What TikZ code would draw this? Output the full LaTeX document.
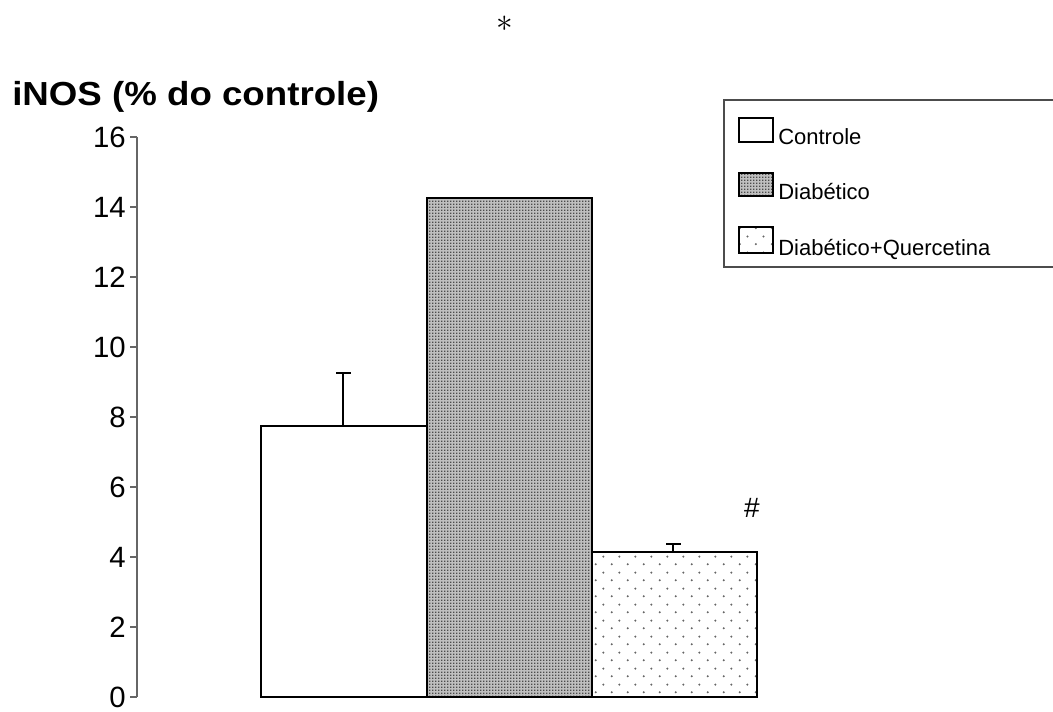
\documentclass[tikz,border=0pt]{standalone}
\usepackage{fontspec}
\setmainfont{Liberation Sans}
\usetikzlibrary{patterns.meta}

\tikzdeclarepattern{name=densedots, type=uncolored,
  bounding box={(0,0) and (2.25pt,2.25pt)}, tile size={(2.25pt,2.25pt)},
  code={\fill (0,0) rectangle (1.4pt,1.4pt);}}
\tikzdeclarepattern{name=sparsedots, type=uncolored,
  bounding box={(0,0) and (12pt,12pt)}, tile size={(12pt,12pt)},
  code={\fill (3pt,3pt) circle (0.9pt); \fill (9pt,9pt) circle (0.9pt);}}

\tikzset{
  axis/.style={draw=black!60, line width=0.8pt},
  bar/.style={draw=black, line width=1.5pt},
  errbar/.style={draw=black, line width=1.5pt},
  ticklabel/.style={anchor=east, inner sep=0pt, font=\fontsize{22}{26}\selectfont},
  legtext/.style={anchor=base west, inner sep=0pt, font=\fontsize{16.5}{20}\selectfont},
  diabfill/.style={preaction={fill=black!25}, pattern={densedots}, pattern color=black!70},
  querfill/.style={pattern={sparsedots}, pattern color=black!60}
}

\begin{document}
\begin{tikzpicture}[x=0.75pt, y=-0.75pt]
        \useasboundingbox (0,0) rectangle (1053,712);

        % axis
        \draw [axis] (137,137) -- (137,697);
        \foreach \v in {0,2,...,16} {
            \draw [axis] (130,{697-35*\v}) -- (137,{697-35*\v});
            \node [ticklabel] (t\v) at (126,{697-35*\v}) {\v};
        }

        \node [anchor=base west, inner sep=0pt, xscale=1.1, font=\bfseries\fontsize{25}{30}\selectfont] (title) at (12,106) {iNOS (\% do controle)};

        % bars
        \draw [bar, fill=white] (261,697) rectangle (427,426);
        \draw [bar, diabfill] (427,697) rectangle (592,198);
        \draw [bar, querfill] (592,697) rectangle (757,552);

        % error bars
        \draw [errbar] (343,426) -- (343,373);
        \draw [errbar] (336,373) -- (351,373);
        \draw [errbar] (673,552) -- (673,544);
        \draw [errbar] (666,544) -- (681,544);

        \node [font=\fontsize{24}{26}\selectfont] (star) at (505,24) {$\ast$};
        \node [font=\fontsize{21}{24}\selectfont] (hash) at (752,508) {\#};

        % legend
        \draw [draw=black!70, line width=0.8pt] (1053,100) -- (724,100) -- (724,267) -- (1053,267);
        \draw [bar, fill=white] (739,118) rectangle (773,142);
        \draw [bar, diabfill] (739,173) rectangle (773,196);
        \draw [bar, querfill] (739,227) rectangle (773,253);
        \node [legtext] (lcont) at (778,145) {Controle};
        \node [legtext] (ldiab) at (778,200) {Diabético};
        \node [legtext] (lquer) at (778,256) {Diabético+Quercetina};
\end{tikzpicture}
\end{document}
